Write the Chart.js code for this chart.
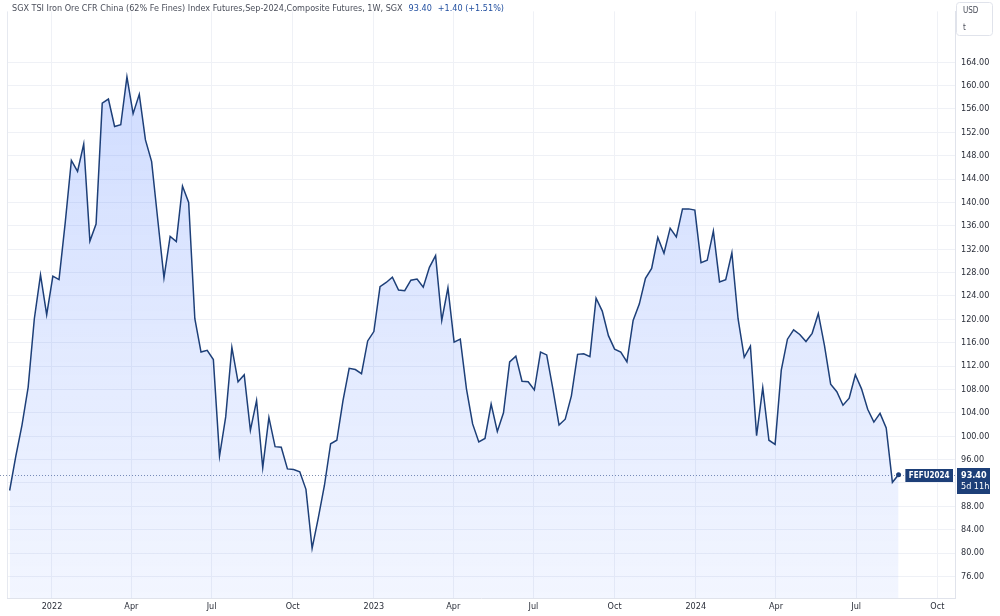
<!DOCTYPE html>
<html>
<head>
<meta charset="utf-8">
<script src="https://cdn.jsdelivr.net/npm/chart.js@4.4.1/dist/chart.umd.min.js"></script>
<style>
  html, body { margin: 0; padding: 0; background: #fff; }
</style>
</head>
<body>
<canvas id="chart" width="1000" height="616"></canvas>
<script>
// series info
const titleText = "SGX TSI Iron Ore CFR China (62% Fe Fines) Index Futures,Sep-2024,Composite Futures, 1W, SGX";
const lastText = "93.40";
const changeText = "+1.40 (+1.51%)";
const symbolText = "FEFU2024";
const countdownText = "5d 11h";
const unitLines = ["USD", "t"];

// weekly closes, first bar week of 2021-11-14
const firstWeek = "2021-11-14";
const prices = [
  90.7, 96.6, 101.9, 108.4, 120.1, 127.6, 120.8, 127.4, 126.8, 136.5,
  147.2, 145.3, 150.0, 133.4, 136.3, 157.0, 157.7, 153.0, 153.3, 161.5,
  155.2, 158.5, 150.7, 147.0, 137.0, 127.1, 134.2, 133.3, 142.8, 140.0,
  120.1, 114.4, 114.7, 113.1, 96.6, 103.3, 115.2, 109.3, 110.5, 101.0,
  106.1, 94.6, 103.2, 98.2, 98.1, 94.4, 94.3, 93.9, 90.9, 80.8,
  86.0, 91.6, 98.7, 99.3, 106.1, 111.6, 111.4, 110.7, 116.3, 117.9,
  125.6, 126.3, 127.2, 125.0, 124.9, 126.7, 126.9, 125.5, 128.9, 130.9,
  119.8, 125.4, 116.1, 116.6, 108.1, 102.1, 99.0, 99.6, 105.5, 100.8,
  104.0, 112.7, 113.7, 109.4, 109.3, 107.9, 114.4, 113.9, 108.1, 101.9,
  102.9, 106.9, 114.0, 114.1, 113.6, 123.6, 121.4, 117.2, 114.9, 114.4,
  112.7, 119.8, 122.6, 127.0, 128.7, 134.0, 131.3, 135.6, 134.1, 138.9,
  138.9, 138.7, 129.7, 130.1, 135.1, 126.4, 126.8, 131.4, 120.1, 113.5,
  115.4, 100.1, 108.3, 99.3, 98.6, 111.3, 116.6, 118.2, 117.4, 116.2,
  117.6, 121.0, 115.5, 108.9, 107.6, 105.3, 106.5, 110.5, 108.1, 104.6,
  102.4, 103.9, 101.4, 92.1, 93.4
];

// axis ticks
const tickDates = [
  "2022-01-01", "2022-04-01", "2022-07-01", "2022-10-01",
  "2023-01-01", "2023-04-01", "2023-07-01", "2023-10-01",
  "2024-01-01", "2024-04-01", "2024-07-01", "2024-10-01"
];
const tickLabels = ["2022", "Apr", "Jul", "Oct", "2023", "Apr", "Jul", "Oct", "2024", "Apr", "Jul", "Oct"];
const yTicks = [76, 80, 84, 88, 92, 96, 100, 104, 108, 112, 116, 120, 124, 128, 132, 136, 140, 144, 148, 152, 156, 160, 164];
const yTickShown = [76, 80, 84, 88, 96, 100, 104, 108, 112, 116, 120, 124, 128, 132, 136, 140, 144, 148, 152, 156, 160, 164];

const FONT = "'Liberation Sans Narrow', 'DejaVu Sans Condensed', 'Liberation Sans', sans-serif";
const NAVY = "#1d3f78";

function dayOf(s) {
  return (Date.parse(s) - Date.parse(firstWeek)) / 86400000;
}

const points = prices.map((p, i) => ({ x: i * 7, y: p }));
const lastPrice = prices[prices.length - 1];

// title, price marker and unit box
const overlay = {
  id: "overlay",
  beforeDatasetsDraw(chart) {
    const ctx = chart.ctx;
    const a = chart.chartArea;
    const y = Math.round(chart.scales.y.getPixelForValue(lastPrice)) + 0.5;
    ctx.save();
    ctx.strokeStyle = "#7f8fb0";
    ctx.lineWidth = 1;
    ctx.setLineDash([1, 2]);
    ctx.beginPath();
    ctx.moveTo(a.left - 7, y);
    ctx.lineTo(a.right, y);
    ctx.stroke();
    ctx.setLineDash([]);
    // left border
    ctx.strokeStyle = "#e6e9f0";
    ctx.beginPath();
    ctx.moveTo(a.left + 0.5, a.top);
    ctx.lineTo(a.left + 0.5, a.bottom);
    ctx.stroke();
    ctx.restore();
  },
  afterDraw(chart) {
    const ctx = chart.ctx;
    const a = chart.chartArea;
    const y = Math.round(chart.scales.y.getPixelForValue(lastPrice));
    ctx.save();

    // title line
    ctx.font = "9px " + FONT;
    ctx.textBaseline = "middle";
    ctx.textAlign = "left";
    ctx.fillStyle = "#4a4e5a";
    ctx.fillText(titleText, 12, 9);
    let x = 12 + ctx.measureText(titleText).width + 6;
    ctx.fillStyle = "#2350a0";
    ctx.fillText(lastText, x, 9);
    x += ctx.measureText(lastText).width + 6;
    ctx.fillText(changeText, x, 9);

    // symbol tag
    ctx.font = "bold 8px " + FONT;
    const sw = ctx.measureText(symbolText).width + 7;
    ctx.fillStyle = NAVY;
    ctx.fillRect(a.right - 2 - sw, y - 6, sw, 13);
    ctx.fillStyle = "#fff";
    ctx.fillText(symbolText, a.right - 2 - sw + 3.5, y + 0.5);

    // price tag on axis
    ctx.fillStyle = NAVY;
    ctx.fillRect(a.right + 2, y - 7, 33, 26);
    ctx.fillStyle = "#fff";
    ctx.font = "bold 9px " + FONT;
    ctx.fillText(lastText, a.right + 6, y + 0.5);
    ctx.font = "9px " + FONT;
    ctx.fillText(countdownText, a.right + 6, y + 12);

    // unit box
    ctx.strokeStyle = "#e0e3eb";
    ctx.lineWidth = 1;
    ctx.beginPath();
    ctx.roundRect(a.right + 1.5, 2.5, 36, 33, 3);
    ctx.stroke();
    ctx.fillStyle = "#4a4e5a";
    ctx.font = "8px " + FONT;
    ctx.fillText(unitLines[0], a.right + 8, 11);
    ctx.fillText(unitLines[1], a.right + 8, 28);
    ctx.restore();
  }
};

const ctx = document.getElementById("chart").getContext("2d");

const myChart = new Chart(ctx, {
  type: "line",
  data: {
    datasets: [
      {
        data: points,
        borderColor: NAVY,
        borderWidth: 1.5,
        tension: 0,
        pointRadius: (c) => (c.dataIndex === prices.length - 1 ? 2.5 : 0),
        pointBackgroundColor: NAVY,
        pointBorderWidth: 0,
        fill: "start",
        backgroundColor: (c) => {
          const area = c.chart.chartArea;
          if (!area) return "rgba(41, 98, 255, 0.12)";
          const g = c.chart.ctx.createLinearGradient(0, area.top, 0, area.bottom);
          g.addColorStop(0, "rgba(41, 98, 255, 0.24)");
          g.addColorStop(1, "rgba(41, 98, 255, 0.06)");
          return g;
        },
      },
    ],
  },
  options: {
    responsive: false,
    animation: false,
    devicePixelRatio: 1,
    layout: { padding: { left: 7, top: 0, right: 0, bottom: 0 } },
    scales: {
      x: {
        type: "linear",
        position: "bottom",
        min: -3,
        max: 1072,
        afterBuildTicks: (s) => {
          s.ticks = tickDates.map((d) => ({ value: dayOf(d) }));
        },
        afterFit: (s) => {
          s.height = 18;
        },
        ticks: {
          autoSkip: false,
          maxRotation: 0,
          padding: 3,
          color: "#2a2e39",
          font: { size: 9, family: FONT },
          callback: (v, i) => tickLabels[i],
        },
        grid: { color: "#eff1f6", drawTicks: false },
        border: { color: "#e0e3eb" },
      },
      y: {
        position: "right",
        min: 72.3,
        max: 172.7,
        afterBuildTicks: (s) => {
          s.ticks = yTicks.map((v) => ({ value: v }));
        },
        afterFit: (s) => {
          s.width = 45;
        },
        ticks: {
          padding: 6,
          color: "#2a2e39",
          font: { size: 9, family: FONT },
          callback: (v) => (yTickShown.includes(v) ? v.toFixed(2) : ""),
        },
        grid: { color: "#eff1f6", drawTicks: false },
        border: { color: "#e0e3eb" },
      },
    },
    plugins: {
      legend: { display: false },
      tooltip: { enabled: false },
    },
  },
  plugins: [overlay],
});
</script>
</body>
</html>
